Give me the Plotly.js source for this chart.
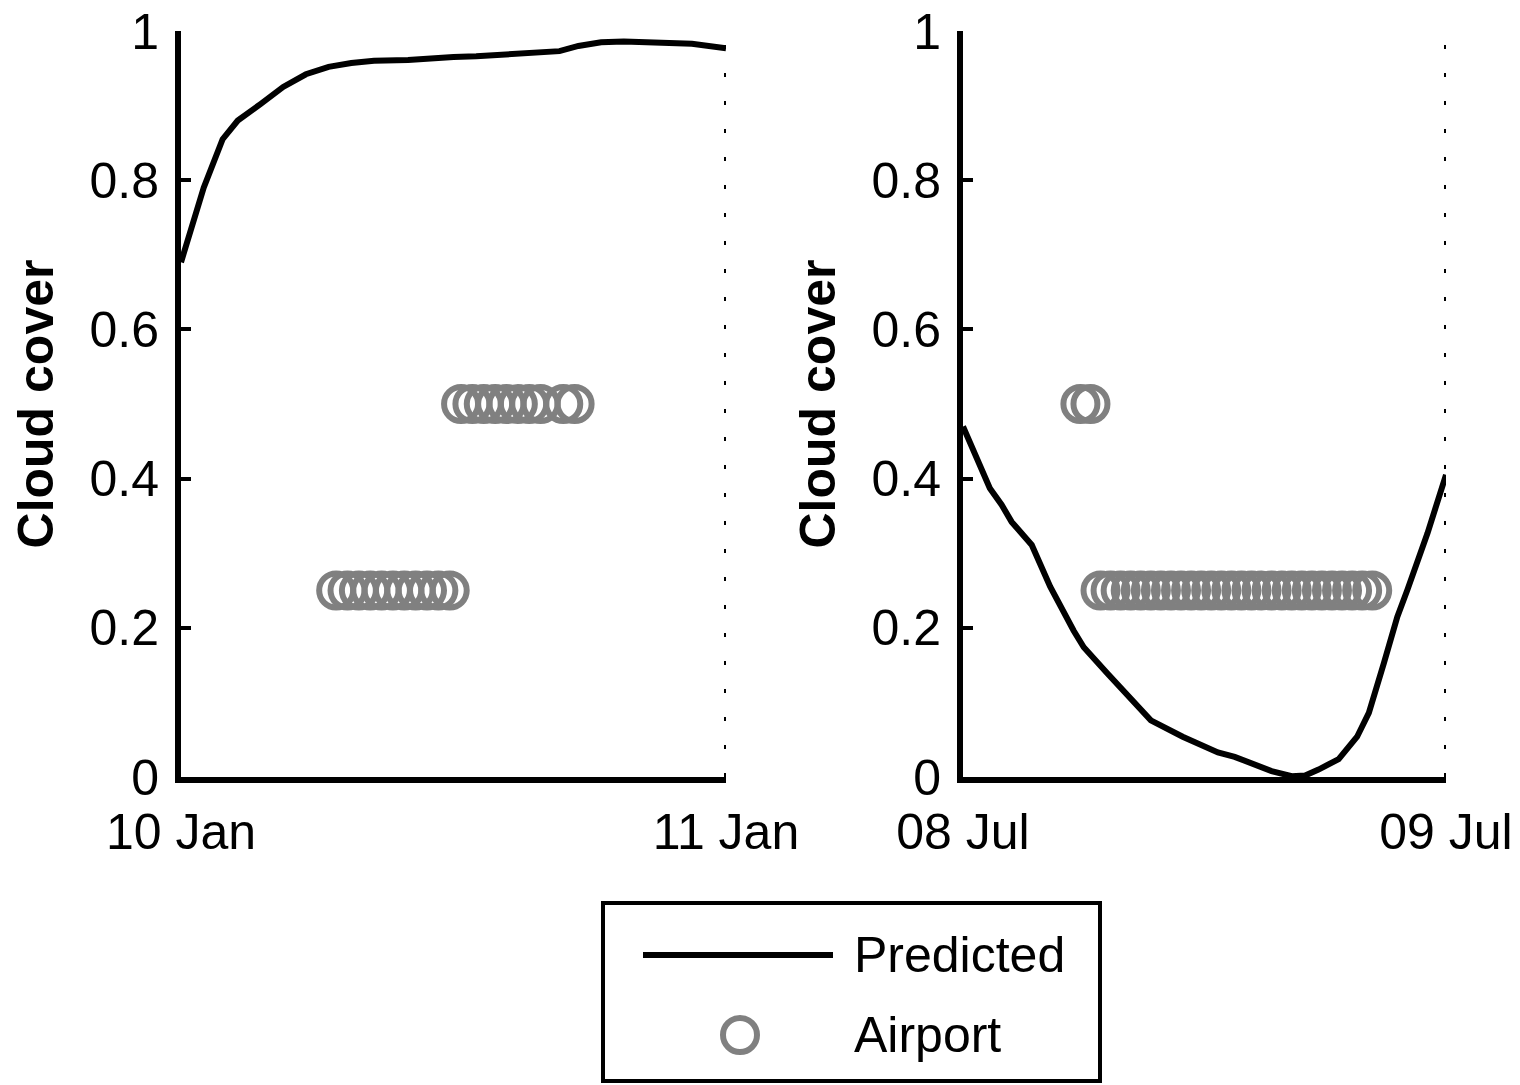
<!DOCTYPE html>
<html>
<head>
<meta charset="utf-8">
<script src="https://cdn.plot.ly/plotly-3.0.1.min.js"></script>
<style>html,body{margin:0;padding:0;background:#fff}#chart{width:1520px;height:1085px}</style>
</head>
<body>
<div id="chart"></div>
<script>
// ---- Data ----
const seriesNames = ["Predicted", "Airport"];
const yTickVals = [0, 0.2, 0.4, 0.6, 0.8, 1];
const yTickText = ["0", "0.2", "0.4", "0.6", "0.8", "1"];
const yTitle = "Cloud cover";

// Left panel: 10 Jan
const janRange = ["2013-01-10 00:00", "2013-01-11 00:00"];
const janPredTimes = ["2013-01-10 00:00","2013-01-10 01:00","2013-01-10 01:50","2013-01-10 02:30","2013-01-10 03:30","2013-01-10 04:30","2013-01-10 05:30","2013-01-10 06:30","2013-01-10 07:30","2013-01-10 08:30","2013-01-10 10:00","2013-01-10 11:00","2013-01-10 12:00","2013-01-10 13:00","2013-01-10 14:00","2013-01-10 15:00","2013-01-10 16:00","2013-01-10 16:40","2013-01-10 17:30","2013-01-10 18:30","2013-01-10 19:30","2013-01-10 20:30","2013-01-10 21:30","2013-01-10 22:30","2013-01-11 00:00"];
const janPredValues = [0.690,0.790,0.855,0.880,0.902,0.925,0.942,0.952,0.957,0.960,0.961,0.962,0.965,0.966,0.968,0.969,0.971,0.973,0.980,0.985,0.986,0.985,0.985,0.983,0.977];
const janObsTimes = ["2013-01-10 06:50","2013-01-10 07:20","2013-01-10 07:50","2013-01-10 08:20","2013-01-10 08:50","2013-01-10 09:20","2013-01-10 09:50","2013-01-10 10:20","2013-01-10 10:50","2013-01-10 11:20","2013-01-10 11:50","2013-01-10 12:20","2013-01-10 12:50","2013-01-10 13:20","2013-01-10 13:50","2013-01-10 14:20","2013-01-10 14:50","2013-01-10 15:20","2013-01-10 15:50","2013-01-10 16:50","2013-01-10 17:20"];
const janObsValues = [0.25,0.25,0.25,0.25,0.25,0.25,0.25,0.25,0.25,0.25,0.25,0.5,0.5,0.5,0.5,0.5,0.5,0.5,0.5,0.5,0.5];

// Right panel: 08 Jul
const julRange = ["2013-07-08 00:00", "2013-07-09 00:00"];
const julPredTimes = ["2013-07-08 00:00","2013-07-08 01:20","2013-07-08 01:55","2013-07-08 02:25","2013-07-08 03:25","2013-07-08 04:20","2013-07-08 05:30","2013-07-08 06:00","2013-07-08 07:10","2013-07-08 08:40","2013-07-08 09:20","2013-07-08 10:55","2013-07-08 11:50","2013-07-08 12:40","2013-07-08 13:30","2013-07-08 14:20","2013-07-08 15:20","2013-07-08 16:20","2013-07-08 17:00","2013-07-08 17:40","2013-07-08 18:40","2013-07-08 19:35","2013-07-08 20:10","2013-07-08 20:55","2013-07-08 21:35","2013-07-08 22:05","2013-07-08 23:05","2013-07-09 00:00"];
const julPredValues = [0.470,0.387,0.365,0.342,0.311,0.255,0.196,0.174,0.139,0.094,0.076,0.054,0.043,0.033,0.027,0.019,0.008,0.001,0.002,0.010,0.024,0.054,0.086,0.153,0.215,0.251,0.327,0.405];
const julObsTimes = ["2013-07-08 05:50","2013-07-08 06:20","2013-07-08 06:50","2013-07-08 07:20","2013-07-08 07:50","2013-07-08 08:20","2013-07-08 08:50","2013-07-08 09:20","2013-07-08 09:50","2013-07-08 10:20","2013-07-08 10:50","2013-07-08 11:20","2013-07-08 11:50","2013-07-08 12:20","2013-07-08 12:50","2013-07-08 13:20","2013-07-08 13:50","2013-07-08 14:20","2013-07-08 14:50","2013-07-08 15:20","2013-07-08 15:50","2013-07-08 16:20","2013-07-08 16:50","2013-07-08 17:20","2013-07-08 17:50","2013-07-08 18:20","2013-07-08 18:50","2013-07-08 19:20","2013-07-08 19:50","2013-07-08 20:20"];
const julObsValues = [0.5,0.5,0.25,0.25,0.25,0.25,0.25,0.25,0.25,0.25,0.25,0.25,0.25,0.25,0.25,0.25,0.25,0.25,0.25,0.25,0.25,0.25,0.25,0.25,0.25,0.25,0.25,0.25,0.25,0.25];

// ---- Styles ----
const FONT = "Liberation Sans, Arial, sans-serif";
const FS = 50;
const lineStyle = {color: "#000000", width: 6};
const markerStyle = {symbol: "circle-open", size: 34, color: "#808080", line: {width: 6, color: "#808080"}};

const traces = [
  {x: janObsTimes, y: janObsValues, type: "scatter", mode: "markers", name: seriesNames[1], marker: markerStyle, xaxis: "x", yaxis: "y", showlegend: false, cliponaxis: false},
  {x: janPredTimes, y: janPredValues, type: "scatter", mode: "lines", name: seriesNames[0], line: lineStyle, xaxis: "x", yaxis: "y", showlegend: false, cliponaxis: false},
  {x: julObsTimes, y: julObsValues, type: "scatter", mode: "markers", name: seriesNames[1], marker: markerStyle, xaxis: "x2", yaxis: "y2", showlegend: false, cliponaxis: false},
  {x: julPredTimes, y: julPredValues, type: "scatter", mode: "lines", name: seriesNames[0], line: lineStyle, xaxis: "x2", yaxis: "y2", showlegend: false, cliponaxis: false}
];

const W = 1520, H = 1085;
const px = v => v / W;
const py = v => 1 - v / H;

function xAxis(range, domain, anchor) {
  return {
    type: "date", range: range, domain: domain, anchor: anchor,
    tickvals: range, tickformat: "%d %b",
    showline: true, linecolor: "#000", linewidth: 6,
    ticks: "inside", ticklen: 10, tickwidth: 4, tickcolor: "#000",
    showgrid: false, zeroline: false, fixedrange: true,
    tickfont: {family: FONT, size: FS, color: "#000"},
    ticklabelstandoff: 6
  };
}
function yAxis(anchor) {
  return {
    range: [0, 1], domain: [py(777), py(31)], anchor: anchor,
    tickvals: yTickVals, ticktext: yTickText,
    showline: true, linecolor: "#000", linewidth: 6,
    ticks: "inside", ticklen: 10, tickwidth: 4, tickcolor: "#000",
    showgrid: false, zeroline: false, fixedrange: true,
    tickfont: {family: FONT, size: FS, color: "#000"},
    ticklabelstandoff: 6,
    title: {text: yTitle, font: {family: FONT, size: FS, color: "#000", weight: "bold"}, standoff: 22}
  };
}

// dotted vertical grid line at the end of each day (x axis grid)
function endGrid(xref, yref, xval) {
  return {type: "line", xref: xref, yref: yref + " domain", x0: xval, x1: xval, y0: 0, y1: 1,
          line: {color: "#000", width: 4, dash: "4px,24px"}, layer: "below"};
}

const layout = {
  width: W, height: H,
  margin: {l: 0, r: 0, t: 0, b: 0, pad: 0},
  paper_bgcolor: "#fff", plot_bgcolor: "#fff",
  showlegend: false,
  font: {family: FONT, color: "#000"},
  xaxis: xAxis(janRange, [px(181), px(726)], "y"), yaxis: yAxis("x"),
  xaxis2: xAxis(julRange, [px(963), px(1446)], "y2"), yaxis2: yAxis("x2"),
  shapes: [
    endGrid("x", "y", janRange[1]),
    endGrid("x2", "y2", julRange[1]),
    {type: "rect", xref: "paper", yref: "paper", x0: px(603), x1: px(1100), y0: py(1081), y1: py(903), line: {color: "#000", width: 4}, fillcolor: "rgba(0,0,0,0)"},
    {type: "line", xref: "paper", yref: "paper", x0: px(643), x1: px(833), y0: py(955), y1: py(955), line: {color: "#000", width: 6}},
    {type: "circle", xref: "paper", yref: "paper", x0: px(723), x1: px(757), y0: py(1052), y1: py(1018), line: {color: "#808080", width: 6}}
  ],
  annotations: [
    {xref: "paper", yref: "paper", x: px(852), y: py(955), xanchor: "left", yanchor: "middle", text: seriesNames[0], showarrow: false, font: {family: FONT, size: FS, color: "#000"}},
    {xref: "paper", yref: "paper", x: px(852), y: py(1035), xanchor: "left", yanchor: "middle", text: seriesNames[1], showarrow: false, font: {family: FONT, size: FS, color: "#000"}}
  ]
};

Plotly.newPlot("chart", traces, layout, {displayModeBar: false, staticPlot: true});
</script>
</body>
</html>
